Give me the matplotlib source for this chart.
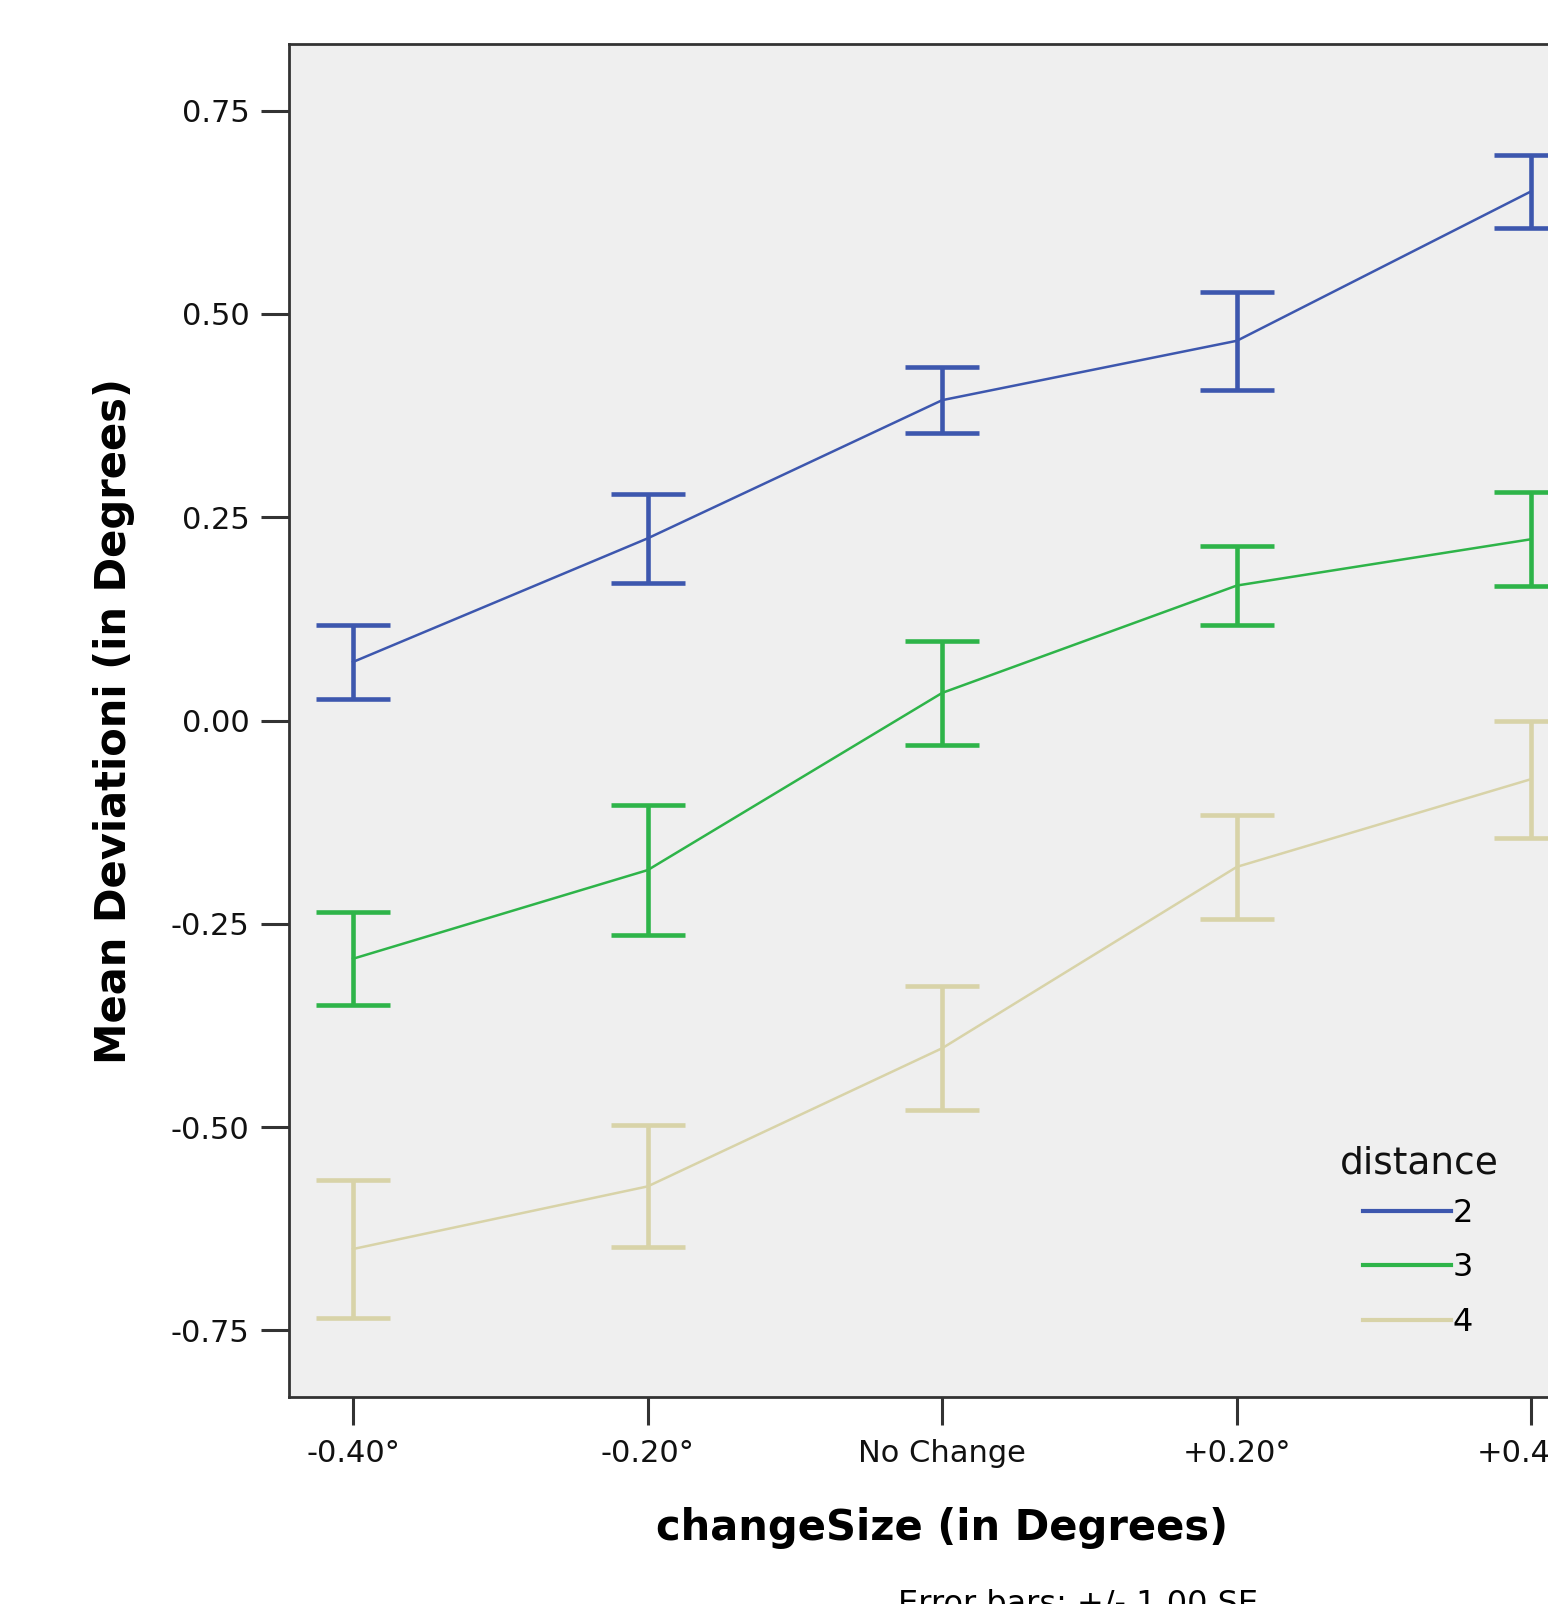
import numpy as np
import matplotlib
matplotlib.use("Agg")
import matplotlib.pyplot as plt

plt.rcParams['font.family'] = ['DejaVu Sans']

categories = ["-0.40°", "-0.20°", "No Change", "+0.20°", "+0.40°"]
distances = ["2", "3", "4"]

# mean deviation per distance group, and standard error
mean_d2 = [0.072, 0.224, 0.394, 0.467, 0.651]
se_d2 = [0.045, 0.055, 0.041, 0.060, 0.045]
mean_d3 = [-0.293, -0.184, 0.034, 0.166, 0.223]
se_d3 = [0.057, 0.080, 0.064, 0.049, 0.058]
mean_d4 = [-0.650, -0.573, -0.403, -0.180, -0.072]
se_d4 = [0.085, 0.075, 0.076, 0.064, 0.072]

colors = ["#3D57AE", "#2EB449", "#D8D3A8"]

W, H = 1548, 1604
fig = plt.figure(figsize=(W / 100, H / 100), dpi=100)
# axes runs past the right edge, as in the cropped original
ax = fig.add_axes([288.5 / W, 1 - 1397 / H, (1596 - 288.5) / W, (1397 - 44) / H])
ax.set_facecolor("#EFEFEF")

x = np.arange(len(categories))
series = [(mean_d2, se_d2), (mean_d3, se_d3), (mean_d4, se_d4)]
for (m, s), c, lab in zip(series, colors, distances):
    ax.plot(x, m, color=c, lw=1.8, label=lab, zorder=3)
    ax.errorbar(x, m, yerr=s, fmt='none', ecolor=c, elinewidth=3.3,
                capsize=26.5, capthick=3.3, zorder=3)

ax.set_xlim(-0.219, 4.219)
ax.set_ylim(-0.832, 0.832)
ax.set_yticks([-0.75, -0.5, -0.25, 0, 0.25, 0.5, 0.75])
ax.set_yticklabels(["-0.75", "-0.50", "-0.25", "0.00", "0.25", "0.50", "0.75"])
ax.set_xticks(x)
ax.set_xticklabels(categories)

for sp in ax.spines.values():
    sp.set_color("#333333")
    sp.set_linewidth(2)

ax.tick_params(axis='both', direction='out', length=20, width=2.2,
               color="#333333", labelsize=22, labelcolor="#111111")
ax.tick_params(axis='y', pad=8)
ax.tick_params(axis='x', pad=10)

ax.set_xlabel("changeSize (in Degrees)", fontsize=30, fontweight='bold',
              labelpad=28)
ax.set_ylabel("Mean Deviationi (in Degrees)", fontsize=30, fontweight='bold',
              labelpad=26)

# legend title drawn separately, it sits left of the handles
fig.text(1340 / W, 1 - 1163 / H, "distance", ha='left', va='center',
         fontsize=27, color="#111111")
leg = ax.legend(loc='upper left',
                bbox_to_anchor=(1350 / W, 1 - 1185 / H),
                bbox_transform=fig.transFigure, frameon=False,
                fontsize=23, handlelength=2.75, borderaxespad=0,
                handletextpad=0.05, labelspacing=0.74)
for line in leg.get_lines():
    line.set_linewidth(3)

fig.text(1078 / W, 1 - 1588 / H, "Error bars: +/- 1.00 SE", ha='center',
         va='top', fontsize=23)

fig.savefig("out.png", dpi=100)
